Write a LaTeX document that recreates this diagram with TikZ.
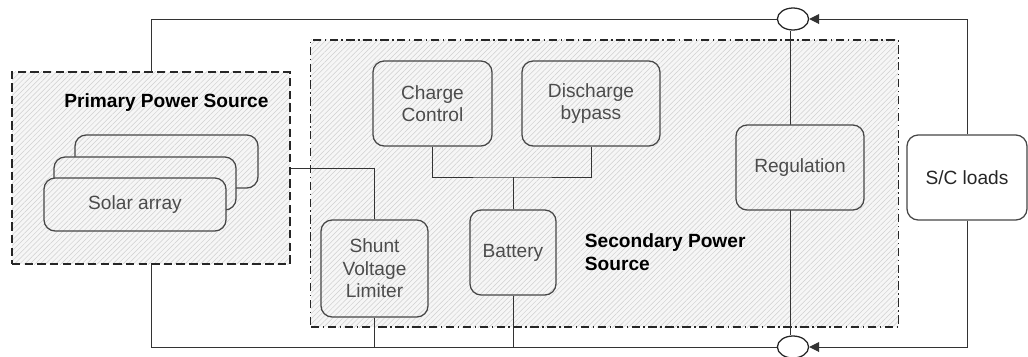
\documentclass[tikz,border=0pt]{standalone}
\usepackage{fontspec}
\setmainfont{Liberation Sans}
\usetikzlibrary{arrows.meta,positioning,shapes.geometric,patterns.meta}

\begin{document}
\begin{tikzpicture}[x=0.025cm,y=-0.025cm,>=Triangle,
  hatch/.style={preaction={fill=gray!7},pattern={Lines[angle=45,distance=2.6pt,line width=0.35pt]},pattern color=gray!38},
  base/.style={draw=gray!55!black,line width=0.9pt,rounded corners=8pt,align=center,
    text=gray!60!black,font=\fontsize{13.6}{16}\selectfont,inner sep=2pt},
  blk/.style={base,hatch},
  outbox/.style={base,fill=white,text=black!85},
  grp/.style={draw=black!85,line width=0.8pt,hatch,inner sep=0pt},
  wire/.style={draw=black!80,line width=0.7pt},
  junc/.style={ellipse,draw=black!85,line width=0.9pt,fill=white,minimum width=0.78cm,minimum height=0.55cm,inner sep=0pt},
  ttl/.style={font=\bfseries\fontsize{13.6}{16}\selectfont,align=left}]
  \useasboundingbox (0,0) rectangle (1028,356);

  % groups
  \node[grp,dash pattern=on 6pt off 2.5pt on 1pt off 2.5pt,minimum width=14.675cm,minimum height=7.175cm](sec) at (604.5,183.5){};
  \node[grp,dash pattern=on 6pt off 3pt,minimum width=6.95cm,minimum height=4.8cm](prim) at (151,168){};
  \node[ttl] at (166.5,103){Primary Power Source};
  \node[ttl,anchor=west] at (580,252){Secondary Power\\Source};

  % junctions and main line
  \node[junc](etop) at (793,19){};
  \node[junc](ebot) at (793,347){};
  \draw[wire] ([xshift=-3*0.025cm]etop.south) -- ([xshift=-3*0.025cm]ebot.north);

  % blocks
  \node[blk,minimum width=4.575cm,minimum height=1.325cm](sa3) at (166.5,161.5){};
  \node[blk,minimum width=4.55cm,minimum height=1.325cm](sa2) at (145,183.5){};
  \node[blk,minimum width=4.55cm,minimum height=1.325cm](sa1) at (135,204.5){Solar array};
  \node[blk,minimum width=2.975cm,minimum height=2.125cm](charge) at (432.5,103.5){Charge\\Control};
  \node[blk,minimum width=3.45cm,minimum height=2.125cm](disch) at (591,103.5){Discharge\\bypass};
  \node[blk,minimum width=2.15cm,minimum height=2.125cm](batt) at (513,252.5){Battery};
  \node[blk,minimum width=2.675cm,minimum height=2.425cm](shunt) at (374.5,268.5){Shunt\\Voltage\\Limiter};
  \node[blk,minimum width=3.2cm,minimum height=2.125cm](reg) at (800,167.5){Regulation};
  \node[outbox,minimum width=3.0cm,minimum height=2.125cm](loads) at (967,177.5){S/C loads};

  % connections
  \coordinate(cj) at (513,177);
  \draw[wire] (charge.south) |- (cj) -| (disch.south);
  \draw[wire] (cj) -- (batt.north);
  \draw[wire] (shunt.north) |- (prim.east);
  \draw[wire] (prim.north) |- (etop.west);
  \draw[wire] (prim.south) |- (ebot.west);
  \draw[wire] (batt.south) -- (batt.south |- ebot);
  \draw[wire] (shunt.south) -- (shunt.south |- ebot);
  \draw[wire,-{Triangle[length=7pt,width=7pt]}] (loads.north) |- (etop.east);
  \draw[wire,-{Triangle[length=7pt,width=7pt]}] (loads.south) |- (ebot.east);
\end{tikzpicture}
\end{document}
